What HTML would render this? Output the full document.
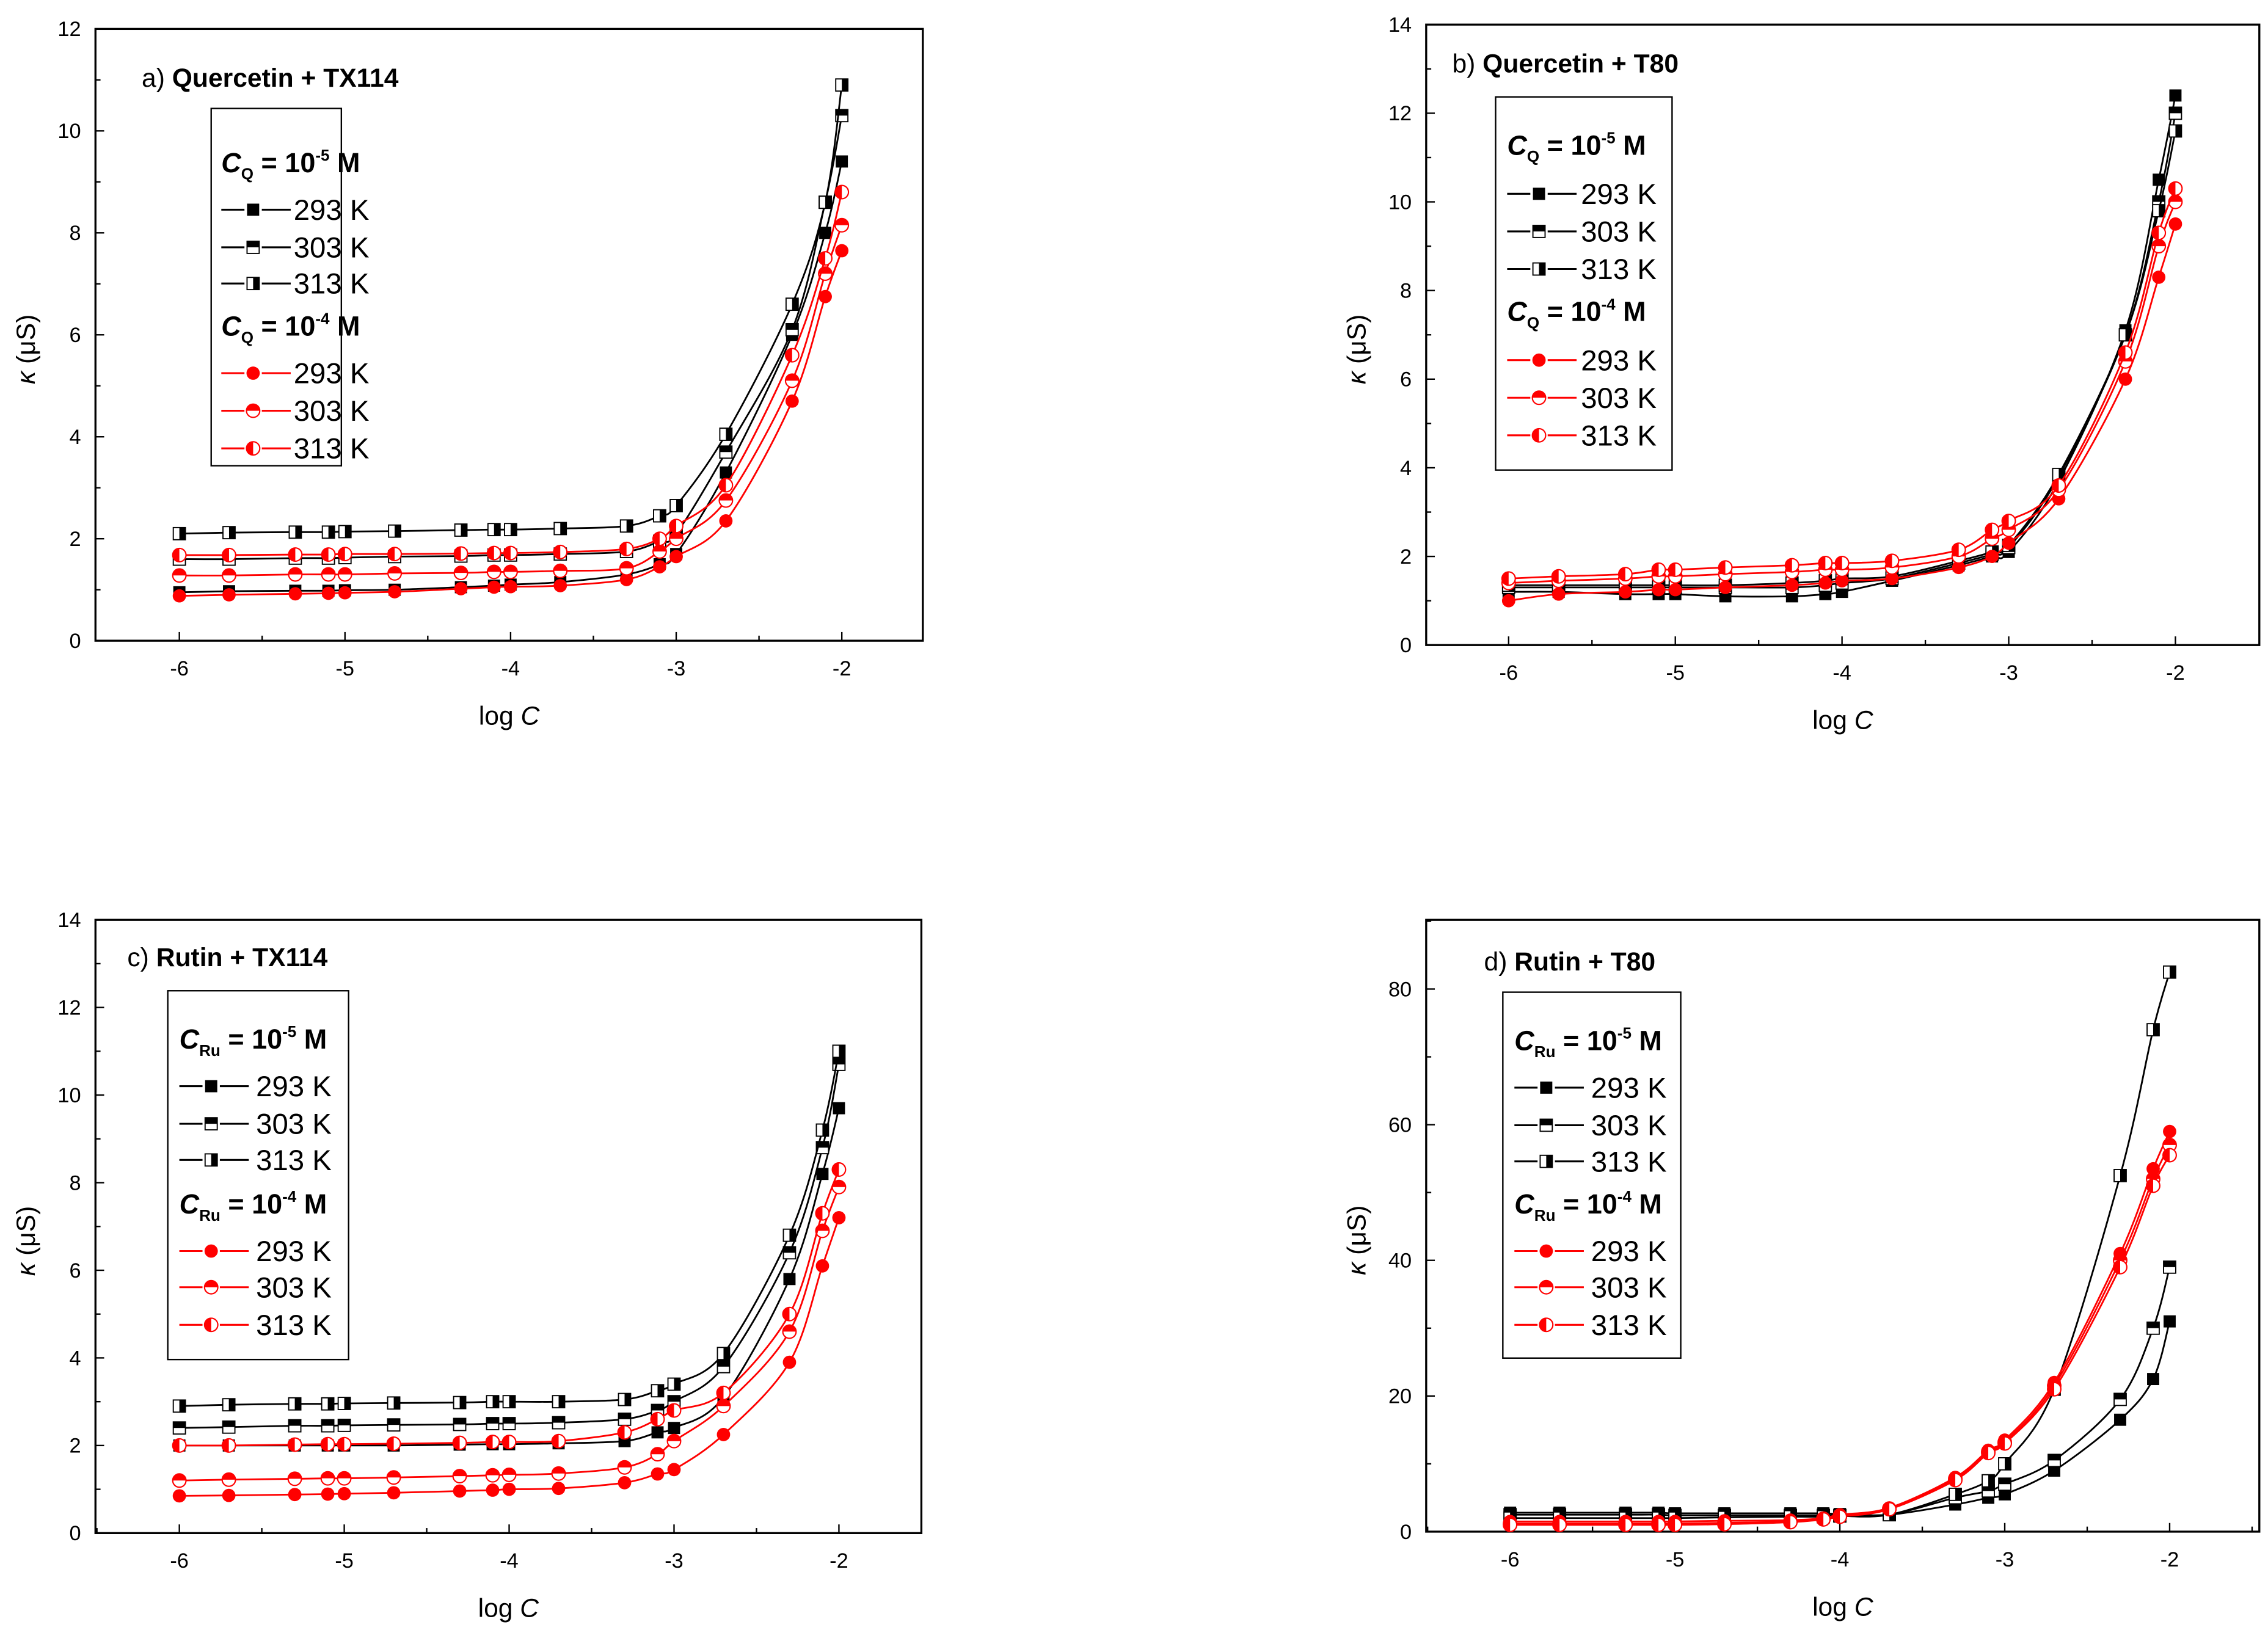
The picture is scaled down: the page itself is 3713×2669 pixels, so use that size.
<!DOCTYPE html>
<html><head><meta charset="utf-8"><style>
html,body{margin:0;padding:0;background:#fff;}
svg{display:block;}
text{font-family:"Liberation Sans",sans-serif;}
</style></head><body>
<svg id="fig" xmlns="http://www.w3.org/2000/svg" width="3713" height="2669" viewBox="0 0 1568 1127" preserveAspectRatio="none"></svg>
<script>
const xs = [-6,-5.7,-5.3,-5.1,-5,-4.7,-4.3,-4.1,-4,-3.7,-3.3,-3.1,-3,-2.7,-2.3,-2.1,-2];
const xTicks = [-6,-5,-4,-3,-2];
const seriesLabels = ['293 K','303 K','313 K','293 K','303 K','313 K'];
// panel a
const aB293=[0.95,0.97,0.98,0.98,0.99,1.0,1.05,1.08,1.1,1.15,1.3,1.5,1.7,3.3,6.0,8.0,9.4];
const aB303=[1.6,1.6,1.62,1.62,1.63,1.65,1.66,1.68,1.68,1.7,1.75,1.95,2.1,3.7,6.1,8.6,10.3];
const aB313=[2.1,2.12,2.13,2.13,2.14,2.15,2.17,2.18,2.18,2.2,2.25,2.45,2.65,4.05,6.6,8.6,10.9];
const aR293=[0.88,0.9,0.92,0.93,0.94,0.96,1.02,1.05,1.06,1.08,1.2,1.45,1.65,2.35,4.7,6.75,7.65];
const aR303=[1.28,1.28,1.3,1.3,1.3,1.32,1.33,1.35,1.35,1.37,1.42,1.75,2.0,2.75,5.1,7.2,8.15];
const aR313=[1.68,1.68,1.69,1.69,1.7,1.7,1.71,1.72,1.72,1.74,1.8,2.0,2.25,3.05,5.6,7.5,8.8];
// panel b
const bB293=[1.2,1.2,1.15,1.15,1.15,1.1,1.1,1.15,1.2,1.45,1.8,2.0,2.1,3.7,7.1,10.5,12.4];
const bB303=[1.3,1.3,1.3,1.3,1.3,1.3,1.3,1.35,1.4,1.5,1.85,2.05,2.2,3.8,7.0,10.0,12.0];
const bB313=[1.35,1.35,1.35,1.35,1.35,1.35,1.4,1.45,1.5,1.55,1.9,2.1,2.25,3.85,7.0,9.8,11.6];
const bR293=[1.0,1.15,1.2,1.25,1.25,1.3,1.35,1.4,1.45,1.5,1.75,2.0,2.3,3.3,6.0,8.3,9.5];
const bR303=[1.4,1.45,1.5,1.55,1.55,1.6,1.65,1.7,1.7,1.75,2.0,2.4,2.6,3.5,6.4,9.0,10.0];
const bR313=[1.5,1.55,1.6,1.7,1.7,1.75,1.8,1.85,1.85,1.9,2.15,2.6,2.8,3.6,6.6,9.3,10.3];
// panel c
const cB293=[2.0,2.0,2.0,2.0,2.0,2.0,2.02,2.03,2.03,2.05,2.1,2.3,2.4,3.1,5.8,8.2,9.7];
const cB303=[2.4,2.42,2.45,2.45,2.46,2.47,2.48,2.5,2.5,2.52,2.6,2.8,3.0,3.8,6.4,8.8,10.7];
const cB313=[2.9,2.93,2.95,2.95,2.96,2.97,2.98,3.0,3.0,3.0,3.05,3.25,3.4,4.1,6.8,9.2,11.0];
const cR293=[0.85,0.86,0.88,0.89,0.9,0.92,0.96,0.98,1.0,1.02,1.15,1.35,1.45,2.25,3.9,6.1,7.2];
const cR303=[1.2,1.22,1.24,1.25,1.25,1.27,1.3,1.32,1.33,1.36,1.5,1.8,2.1,2.9,4.6,6.9,7.9];
const cR313=[2.0,2.0,2.02,2.03,2.03,2.04,2.06,2.08,2.08,2.1,2.3,2.6,2.8,3.2,5.0,7.3,8.3];
// panel d
const dB293=[2.8,2.8,2.8,2.8,2.7,2.7,2.7,2.7,2.6,2.5,4.0,5.0,5.5,9.0,16.5,22.5,31.0];
const dB303=[2.5,2.5,2.5,2.5,2.4,2.4,2.4,2.4,2.4,2.5,5.0,6.0,7.0,10.5,19.5,30.0,39.0];
const dB313=[2.0,2.0,2.0,2.0,2.0,2.1,2.2,2.2,2.3,2.5,5.5,7.5,10.0,21.0,52.5,74.0,82.5];
const dR293=[1.5,1.5,1.5,1.5,1.5,1.6,1.7,2.0,2.5,3.5,8.0,12.0,13.5,22.0,41.0,53.5,59.0];
const dR303=[1.2,1.2,1.2,1.2,1.2,1.3,1.5,1.9,2.3,3.4,7.8,11.8,13.2,21.5,40.0,52.0,57.0];
const dR313=[1.0,1.0,1.0,1.0,1.0,1.1,1.4,1.8,2.2,3.3,7.6,11.6,13.0,21.0,39.0,51.0,55.5];

const NS='http://www.w3.org/2000/svg';
const svg=document.getElementById('fig');
function mk(tag,attrs,parent){const e=document.createElementNS(NS,tag);for(const k in attrs)e.setAttribute(k,attrs[k]);(parent||svg).appendChild(e);return e;}

const panels=[
 {id:'a',L:66,T:20,R:638,B:443,x6:124,x2:582,ymax:12,yMaj:2,title:'Quercetin + TX114',sub:'Q',
  leg:{x1:146,y1:75,x2:236,y2:322,lx:153,tx:203,rows:[113,145,171,196,226,258,284,310]},
  data:[aB293,aB303,aB313,aR293,aR303,aR313],tx:98,ty:54},
 {id:'b',L:986,T:17,R:1562,B:446,x6:1043,x2:1504,ymax:14,yMaj:2,title:'Quercetin + T80',sub:'Q',
  leg:{x1:1034,y1:67,x2:1156,y2:325,lx:1042,tx:1093,rows:[101,134,160,186,216,249,275,301]},
  data:[bB293,bB303,bB313,bR293,bR303,bR313],tx:1004,ty:44},
 {id:'c',L:66,T:636,R:637,B:1060,x6:124,x2:580,ymax:14,yMaj:2,title:'Rutin + TX114',sub:'Ru',
  leg:{x1:116,y1:685,x2:241,y2:940,lx:124,tx:177,rows:[719,751,777,802,833,865,890,916]},
  data:[cB293,cB303,cB313,cR293,cR303,cR313],tx:88,ty:662},
 {id:'d',L:986,T:636,R:1562,B:1059,x6:1044,x2:1500,ymax:90.2,yMaj:20,ytop:80,title:'Rutin + T80',sub:'Ru',
  leg:{x1:1039,y1:686,x2:1162,y2:939,lx:1047,tx:1100,rows:[720,752,778,803,833,865,890,916]},
  data:[dB293,dB303,dB313,dR293,dR303,dR313],tx:1026,ty:665}
];

function smoothPath(pts){
  let d='M'+pts[0][0].toFixed(2)+','+pts[0][1].toFixed(2);
  for(let i=0;i<pts.length-1;i++){
    const p0=pts[Math.max(0,i-1)],p1=pts[i],p2=pts[i+1],p3=pts[Math.min(pts.length-1,i+2)];
    const t=6;
    const c1=[p1[0]+(p2[0]-p0[0])/t,p1[1]+(p2[1]-p0[1])/t];
    const c2=[p2[0]-(p3[0]-p1[0])/t,p2[1]-(p3[1]-p1[1])/t];
    d+=' C'+c1.map(v=>v.toFixed(2)).join(',')+' '+c2.map(v=>v.toFixed(2)).join(',')+' '+p2.map(v=>v.toFixed(2)).join(',');
  }
  return d;
}

function marker(g,x,y,k,color){
  const s=4.2;
  if(k<3){
    if(k===0){mk('rect',{x:x-s,y:y-s,width:2*s,height:2*s,fill:color},g);}
    else{
      mk('rect',{x:x-s,y:y-s,width:2*s,height:2*s,fill:'#fff',stroke:color,'stroke-width':0.8},g);
      if(k===1) mk('rect',{x:x-s,y:y-s,width:2*s,height:s,fill:color},g);
      else mk('rect',{x:x,y:y-s,width:s,height:2*s,fill:color},g);
    }
  } else {
    const r=4.6,kk=k-3;
    if(kk===0) mk('circle',{cx:x,cy:y,r:r,fill:color},g);
    else{
      mk('circle',{cx:x,cy:y,r:r,fill:'#fff',stroke:color,'stroke-width':0.9},g);
      if(kk===1) mk('path',{d:`M${x-r},${y} A${r},${r} 0 0 1 ${x+r},${y} Z`,fill:color},g);
      else mk('path',{d:`M${x},${y-r} A${r},${r} 0 0 0 ${x},${y+r} Z`,fill:color},g);
    }
  }
}

panels.forEach(p=>{
  const g=mk('g',{});
  
  
  const X=v=>p.x6+(v+6)*(p.x2-p.x6)/4;
  const Y=v=>p.B-v*(p.B-p.T)/p.ymax;
  const fr=mk('rect',{x:p.L,y:p.T,width:p.R-p.L,height:p.B-p.T,fill:'none',stroke:'#000','stroke-width':1.4},g);
  
  
  for(let v=-6.5;v<=-1.5;v+=0.5){
    const x=X(v); if(x<p.L+1||x>p.R-1)continue;
    const major=Number.isInteger(v);
    mk('line',{x1:x,y1:p.B,x2:x,y2:p.B-(major?6:3.5),stroke:'#000','stroke-width':1},g);
  }
  xTicks.forEach(v=>{
    const t=mk('text',{x:X(v),y:p.B+24,'font-size':14.5,'text-anchor':'middle',fill:'#000'},g);
    t.textContent=String(v);
    
    
  });
  const ytop=p.ytop!==undefined?p.ytop:p.ymax;
  for(let v=0;v<=p.ymax+0.01;v+=p.yMaj/2){
    const y=Y(v);
    const major=Math.abs(v/p.yMaj-Math.round(v/p.yMaj))<1e-6;
    mk('line',{x1:p.L,y1:y,x2:p.L+(major?6:3.5),y2:y,stroke:'#000','stroke-width':1},g);
    if(major&&v<=ytop){
      const t=mk('text',{x:p.L-10,y:y+5,'font-size':14.5,'text-anchor':'end',fill:'#000'},g);
      t.textContent=String(v);
      
      
    }
  }
  const xt=mk('text',{x:(p.L+p.R)/2,y:p.B+58,'font-size':18,'text-anchor':'middle',fill:'#000'},g);
  xt.innerHTML='log <tspan font-style="italic">C</tspan>';
  
  
  const yc=(p.T+p.B)/2+10, yx=p.L-42;
  const yt=mk('text',{x:yx,y:yc,'font-size':18,'text-anchor':'middle',fill:'#000',transform:`rotate(-90 ${yx} ${yc})`},g);
  yt.innerHTML='<tspan font-style="italic">κ</tspan>  (μS)';
  
  
  const tt=mk('text',{x:p.tx,y:p.ty+6,'font-size':18,fill:'#000'},g);
  tt.innerHTML=p.id+') <tspan font-weight="bold">'+p.title+'</tspan>';
  
  
  p.data.forEach((arr,si)=>{
    const color=si<3?'#000':'#ff0000';
    const sg=mk('g',{},g);
    
    
    const pts=xs.map((v,i)=>[X(v),Y(arr[i])]);
    mk('path',{d:smoothPath(pts),fill:'none',stroke:color,'stroke-width':1.2},sg);
    pts.forEach(pt=>marker(sg,pt[0],pt[1],si,color));
  });
  const l=p.leg;
  const lg=mk('g',{},g);
  
  
  mk('rect',{x:l.x1,y:l.y1,width:l.x2-l.x1,height:l.y2-l.y1,fill:'#fff',stroke:'#000','stroke-width':1},lg);
  const hdr=(y,exp)=>{
    const t=mk('text',{x:l.lx,y:y+6,'font-size':19,'font-weight':'bold',fill:'#000'},lg);
    t.innerHTML=`<tspan font-style="italic">C</tspan><tspan font-size="11" dy="5">${p.sub}</tspan><tspan dy="-5"> = 10</tspan><tspan font-size="11" dy="-8">${exp}</tspan><tspan dy="8"> M</tspan>`;
    
    
  };
  hdr(l.rows[0],'-5'); hdr(l.rows[4],'-4');
  const rowIdx=[1,2,3,5,6,7];
  rowIdx.forEach((ri,si)=>{
    const y=l.rows[ri];
    const color=si<3?'#000':'#ff0000';
    const eg=mk('g',{},lg);
    
    
    const mx=l.lx+22;
    mk('line',{x1:l.lx,y1:y,x2:mx-6,y2:y,stroke:color,'stroke-width':1.3},eg);
    mk('line',{x1:mx+6,y1:y,x2:mx+26,y2:y,stroke:color,'stroke-width':1.3},eg);
    marker(eg,mx,y,si,color);
    const t=mk('text',{x:l.tx,y:y+7,'font-size':20,fill:'#000'},eg);
    t.textContent=seriesLabels[si];
  });
});
</script>
</body></html>
